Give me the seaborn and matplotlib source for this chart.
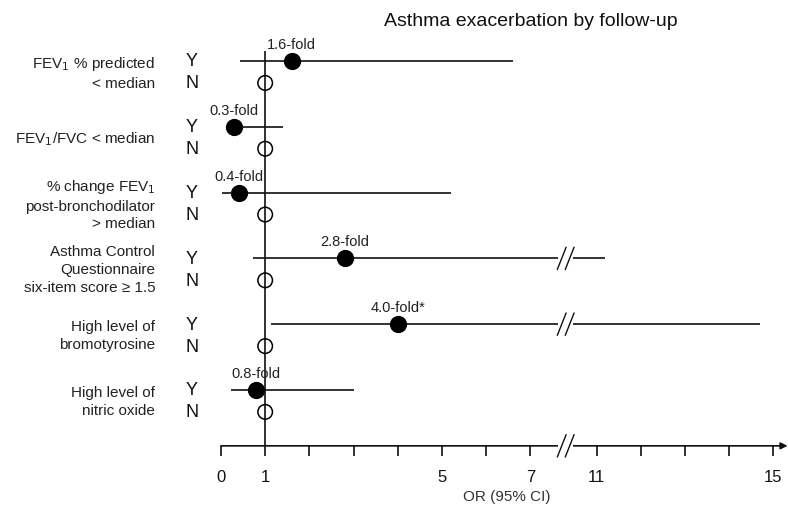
import matplotlib
matplotlib.use("Agg")
import matplotlib.pyplot as plt
import seaborn as sns
import numpy as np
import pandas as pd

sns.set_theme(style="white")
plt.rcParams['font.family'] = ['Liberation Sans', 'DejaVu Sans']

# ---------------- data ----------------
categories = [
    "FEV$_1$ % predicted\n< median",
    "FEV$_1$/FVC < median",
    "% change FEV$_1$\npost-bronchodilator\n> median",
    "Asthma Control\nQuestionnaire\nsix-item score ≥ 1.5",
    "High level of\nbromotyrosine",
    "High level of\nnitric oxide",
]
odds_ratio = [1.6, 0.3, 0.4, 2.8, 4.0, 0.8]
ci_low = [0.43, 0.18, 0.02, 0.72, 1.13, 0.22]
ci_high = [6.6, 1.4, 5.2, 11.2, 14.7, 3.0]
fold_labels = ["1.6-fold", "0.3-fold", "0.4-fold", "2.8-fold", "4.0-fold*", "0.8-fold"]
reference_or = [1, 1, 1, 1, 1, 1]
tick_values = [0, 1, 2, 3, 4, 5, 6, 7, 11, 12, 13, 14, 15]
tick_labels = ["0", "1", "", "", "", "5", "", "7", "11", "", "", "", "15"]

# broken axis: values beyond the break are shifted left
BREAK = 7.75
SHIFT = 2.5


def tx(v):
    v = np.asarray(v, dtype=float)
    return np.where(v <= BREAK, v, v - SHIFT)


n = len(categories)
y_yes = np.arange(n, dtype=float)
y_no = y_yes + 0.334

fig = plt.figure(figsize=(7.88, 5.10), dpi=100)
ax = fig.add_axes([0, 0, 1, 1])

lw = 1.2
col = "#111111"
txtcol = "#222222"

# CI lines
lo_t = tx(ci_low)
hi_t = tx(ci_high)
ax.hlines(y_yes, lo_t, hi_t, color=col, lw=lw, zorder=2)


def slashes(xc, yc):
    # white gap + double slash
    ax.plot([xc - 0.17, xc + 0.17], [yc, yc], color="white", lw=3, zorder=3, solid_capstyle="butt")
    for dx in (-0.09, 0.09):
        ax.plot([xc + dx - 0.1, xc + dx + 0.1], [yc + 0.17, yc - 0.17], color=col, lw=1.0, zorder=4)


for i in range(n):
    if ci_high[i] > BREAK:
        slashes(BREAK + 0.05, y_yes[i])

# reference vertical line at OR = 1
axis_y = 5.85
ax.vlines(tx(1), -0.15, axis_y, color=col, lw=lw, zorder=1)

# points
df_y = pd.DataFrame({"x": tx(odds_ratio), "y": y_yes})
df_n = pd.DataFrame({"x": tx(reference_or), "y": y_no})
sns.scatterplot(data=df_y, x="x", y="y", s=130, color="black", edgecolor="black",
                linewidth=1, ax=ax, zorder=5, legend=False)
sns.scatterplot(data=df_n, x="x", y="y", s=110, facecolor="none", edgecolor="black",
                linewidth=1.1, ax=ax, zorder=5, legend=False)
ax.set_xlim(-5.0, 12.83)
ax.set_ylim(6.81, -0.942)
ax.axis("off")

# fold labels
for i in range(n):
    ax.text(float(tx(odds_ratio[i])), y_yes[i] - 0.15, fold_labels[i], ha="center", va="bottom",
            fontsize=10.5, color=txtcol)

# category labels and Y/N
for i in range(n):
    ax.text(-1.49, (y_yes[i] + y_no[i]) / 2, categories[i], ha="right", va="center",
            fontsize=11, linespacing=1.35, color=txtcol)
    ax.text(-0.66, y_yes[i], "Y", ha="center", va="center", fontsize=13, color=col)
    ax.text(-0.66, y_no[i], "N", ha="center", va="center", fontsize=13, color=col)

# x axis
ax.annotate("", xy=(12.82, axis_y), xytext=(0, axis_y),
            arrowprops=dict(arrowstyle="-|>", color=col, lw=lw, mutation_scale=10, shrinkA=0, shrinkB=0))
slashes(BREAK + 0.05, axis_y)
tt = tx(tick_values)
ax.vlines(tt, axis_y, axis_y + 0.15, color=col, lw=lw)
for t, lab in zip(tt, tick_labels):
    if lab:
        ax.text(t, axis_y + 0.46, lab, ha="center", va="center", fontsize=12, color=col)
ax.text(6.47, axis_y + 0.76, "OR (95% CI)", ha="center", va="center", fontsize=11, color="#333333")

# title
ax.text(7.02, -0.62, "Asthma exacerbation by follow-up", ha="center", va="center",
        fontsize=14, color=col)

fig.savefig("out.png", dpi=100)
